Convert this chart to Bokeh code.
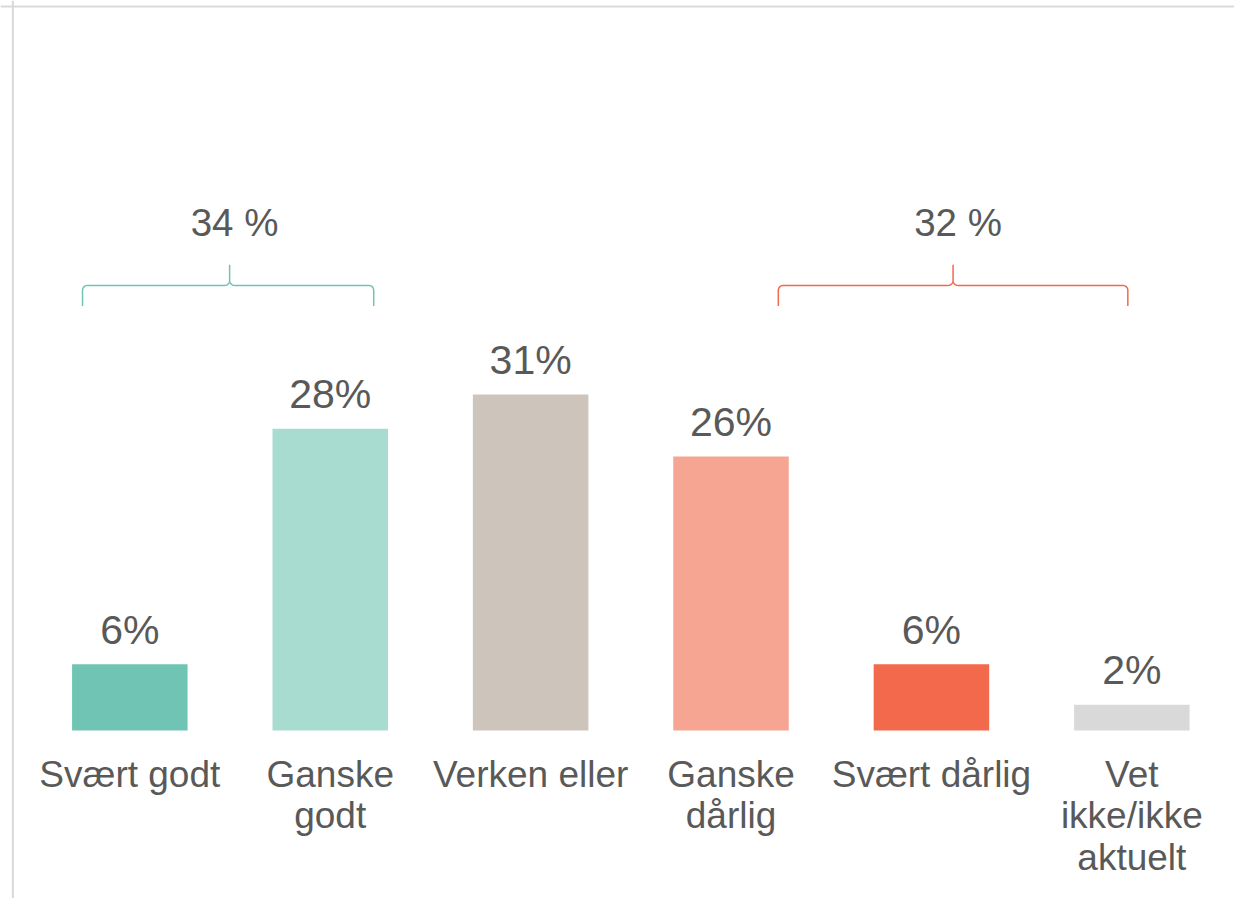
import numpy as np
from bokeh.plotting import figure
from bokeh.models import Range1d, Span, ColumnDataSource
from bokeh.core.properties import value
from bokeh.embed import file_html
from bokeh.resources import INLINE

# ---- data ----
categories = ["Svært godt", "Ganske\ngodt", "Verken eller", "Ganske\ndårlig",
              "Svært dårlig", "Vet\nikke/ikke\naktuelt"]
values = [6.2, 28.2, 31.4, 25.6, 6.2, 2.4]
bar_colors = ["#70C4B4", "#A9DCD0", "#CDC4BB", "#F6A592", "#F2694B", "#D9D9D9"]
group_members = [[0, 1], [3, 4]]
group_colors = ["#70C4B4", "#F2694B"]

# ---- layout (brace placement in category units) ----
brace_start = [-0.236, 3.236]
brace_end = [1.217, 4.980]
brace_tip = [0.498, 4.108]

W, H = 1234, 898
# reference geometry: category pitch 203 px, first centre at 131 px,
# baseline at 743 px, 10.89 px per percentage point, in a 1250x914 picture
PITCH, C0, BASE, UNIT = 203.0, 131.0, 743.0, 10.89
REF_W, REF_H = 1250.0, 914.0
x0, x1 = -C0 / PITCH, (REF_W - C0) / PITCH
y0, y1 = -(REF_H - BASE) / UNIT, BASE / UNIT


def dx(px):
    return px / PITCH


def dy(px):
    return px / UNIT


FONT = value("Liberation Sans")
TXT = "#595959"

p = figure(width=W, height=H, x_range=Range1d(x0, x1), y_range=Range1d(y0, y1),
           output_backend="svg", toolbar_location=None,
           min_border_left=0, min_border_right=0, min_border_top=0, min_border_bottom=0,
           x_axis_location=None, y_axis_location=None)
p.grid.visible = False
p.outline_line_color = None
p.background_fill_color = "white"
p.border_fill_color = "white"

idx = list(range(len(categories)))
src = ColumnDataSource(dict(x=idx, top=values, color=bar_colors,
                            label=[f"{round(v)}%" for v in values],
                            ly=[v + dy(35) for v in values],
                            cat=categories))

p.vbar(x="x", top="top", bottom=0, width=dx(117), color="color", source=src, line_color=None)

p.text(x="x", y="ly", text="label", source=src, text_align="center",
       text_baseline="alphabetic", text_font=FONT, text_font_size="41px", text_color=TXT)

p.text(x="x", y=-dy(24), text="cat", source=src, text_align="center",
       text_baseline="top", text_font=FONT, text_font_size="37px", text_color=TXT,
       text_line_height=1.01)

# braces
yh = dy(BASE - 290)
depth = dy(21)
tip = dy(21)
rx, ry = dx(5), dy(5)


def arc(cx, cy, a0, a1, n=12):
    t = np.linspace(a0, a1, n)
    return list(cx + rx * np.cos(t)), list(cy + ry * np.sin(t))


for g, members in enumerate(group_members):
    xs, xe, xt = brace_start[g], brace_end[g], brace_tip[g]
    X, Y = [xs], [yh - depth]
    for cx, cy, a0, a1 in [(xs + rx, yh - ry, np.pi, np.pi / 2),
                           (xt - rx, yh + ry, -np.pi / 2, 0)]:
        ax, ay = arc(cx, cy, a0, a1)
        X += ax; Y += ay
    X.append(xt); Y.append(yh + tip)
    for cx, cy, a0, a1 in [(xt + rx, yh + ry, np.pi, 1.5 * np.pi),
                           (xe - rx, yh - ry, np.pi / 2, 0)]:
        ax, ay = arc(cx, cy, a0, a1)
        X += ax; Y += ay
    X.append(xe); Y.append(yh - depth)
    p.line(X, Y, line_color=group_colors[g], line_width=1.5)

    total = sum(values[i] for i in members)
    p.text(x=[xt + dx(5)], y=[yh + dy(64)], text=[f"{round(total)} %"],
           text_align="center", text_baseline="alphabetic", text_font=FONT,
           text_font_size="38.5px", text_color=TXT)

# frame border (only top and left are visible in the reference)
p.add_layout(Span(location=dy(BASE - 6), dimension="width", line_color="#D9D9D9", line_width=2))
p.add_layout(Span(location=dx(12.5 - C0), dimension="height", line_color="#D9D9D9", line_width=2))

open("out.html", "w").write(file_html(p, INLINE))
